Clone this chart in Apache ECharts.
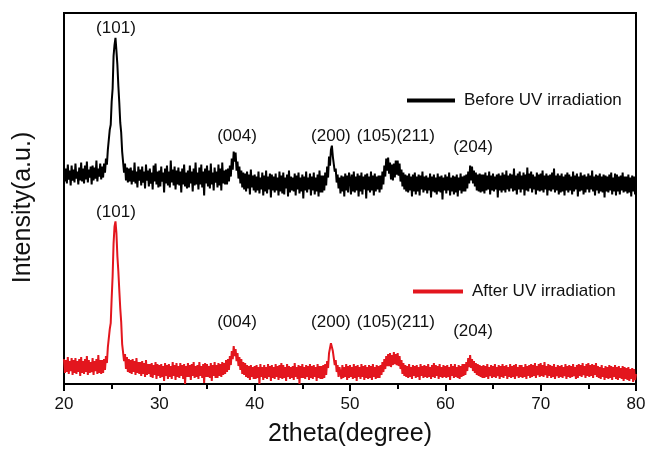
<!DOCTYPE html>
<html>
<head>
<meta charset="utf-8">
<script src="https://cdn.jsdelivr.net/npm/echarts@6/dist/echarts.min.js"></script>
<style>html,body{margin:0;padding:0;background:#fff}#c{width:649px;height:452px}</style>
</head>
<body>
<div id="c"></div>
<script>
// 2theta sampling grid: 20.0 .. 80.0 step 0.1 (601 points)
const angleStart = 20;
const angleStep = 0.1;

// Before UV irradiation (intensity, a.u.), one row per degree
const beforeUV = [
218,203,216,201,220,205,214,199,219,204,
215,202,221,206,213,200,217,204,222,203,
216,201,219,205,223,202,215,207,218,200,
219,204,217,206,224,203,216,208,221,205,
218,207,221,212,226,220,235,234,255,260,
283,296,329,340,347,334,320,299,282,262,
252,233,232,212,221,204,217,202,216,203,
217,200,214,203,222,201,213,197,218,204,
215,199,218,202,213,196,220,204,214,198,
216,201,212,195,219,203,221,200,213,197,
214,198,218,203,212,192,216,201,219,199,
213,197,224,202,215,199,218,195,214,200,
217,199,213,192,216,200,220,198,212,196,
214,197,219,201,213,193,216,199,222,200,
212,195,217,200,220,197,213,189,216,201,
219,198,214,196,221,200,212,194,217,202,
213,197,220,199,216,194,222,201,214,200,
215,200,216,203,219,208,226,215,233,223,
232,214,223,206,218,201,214,197,212,195,
211,193,213,196,210,190,215,197,209,194,
210,192,208,194,213,191,207,195,212,189,
209,193,214,191,208,195,211,187,210,194,
208,192,211,194,207,189,213,193,209,191,
212,190,207,196,210,188,214,192,208,194,
207,193,211,189,209,195,212,191,207,193,
210,186,208,194,213,192,207,195,211,189,
208,194,212,190,207,193,210,188,214,192,
209,192,209,194,212,199,218,207,228,219,
235,239,228,228,213,216,202,210,196,207,
191,209,193,208,188,211,194,209,192,212,
206,190,210,193,213,192,208,194,211,188,
209,193,212,190,208,195,210,186,211,194,
208,192,213,194,209,189,211,193,208,195,
209,192,209,195,213,200,219,208,226,214,
227,211,222,205,220,204,221,207,224,210,
224,209,221,203,215,198,212,195,210,193,
209,192,211,194,208,188,210,193,212,190,
208,193,210,189,209,195,213,192,208,194,
209,191,207,194,211,187,208,193,210,192,
207,190,211,193,208,192,209,185,207,194,
210,191,208,194,212,189,207,193,209,190,
208,192,210,188,207,194,211,191,208,193,
209,193,210,196,213,201,219,204,218,201,
214,198,212,194,210,193,211,192,210,193,
210,191,212,194,209,195,213,190,209,194,
211,193,208,195,210,187,211,194,209,192,
212,194,210,192,214,195,209,193,211,196,
210,193,216,194,209,190,211,195,213,192,
209,195,212,189,210,194,217,193,211,196,
213,192,210,195,208,190,212,194,210,193,
211,194,214,192,209,195,211,189,209,194,
210,193,212,195,216,192,209,194,211,190,
209,192,211,193,208,189,210,194,212,192,
210,194,208,190,213,193,209,195,211,188,
208,193,212,194,209,190,210,192,208,195,
211,192,209,195,214,193,208,189,210,194,
209,191,211,193,208,192,210,187,209,193,
208,192,210,194,212,190,207,193,211,189,
210,193,208,190,209,194,212,192,208,193,
208,191,210,192,207,188,209,193,208,190,
205
];

// After UV irradiation (intensity, a.u.)
const afterUV = [
25,11,24,12,27,10,23,13,26,9,
24,11,26,10,23,12,25,8,27,11,
23,10,25,12,28,9,24,11,22,12,
26,9,23,13,25,10,29,11,24,10,
24,11,25,14,28,21,37,35,55,61,
86,108,141,158,163,151,128,113,94,76,
62,40,40,23,30,15,27,12,25,11,
24,10,25,12,23,9,26,11,22,10,
22,8,23,10,21,7,24,9,20,10,
20,7,21,6,19,9,22,5,20,8,
19,6,20,7,18,3,21,8,19,5,
20,7,18,5,22,8,19,4,21,7,
18,6,21,8,19,5,20,0,18,7,
21,7,19,4,20,8,22,6,18,7,
19,5,22,8,18,6,20,1,21,7,
20,7,18,6,21,3,19,8,22,6,
19,6,21,8,20,7,22,9,21,10,
24,12,25,14,28,19,33,25,38,28,
35,23,31,18,27,14,25,10,22,9,
21,7,19,6,18,4,19,7,17,5,
18,5,19,6,17,0,20,7,17,4,
19,6,17,5,20,7,18,3,19,6,
17,5,20,7,18,4,19,6,21,5,
19,6,17,3,20,7,18,5,17,6,
18,4,21,7,17,5,19,0,18,6,
20,6,17,5,19,7,18,4,20,6,
18,5,19,7,17,3,20,6,18,5,
18,5,19,6,20,9,23,16,31,29,
41,43,33,32,19,24,12,19,7,17,
18,5,19,6,17,7,20,4,18,6,
19,7,17,5,20,6,18,3,19,7,
17,5,20,7,18,4,19,6,17,5,
19,6,18,4,20,7,17,5,19,6,
18,6,19,9,22,12,25,15,28,18,
30,18,31,17,29,19,32,20,30,19,
31,18,28,15,24,10,21,8,19,7,
18,6,20,7,17,5,19,8,18,6,
19,7,17,4,20,8,18,6,19,7,
18,6,20,7,17,5,19,7,21,6,
19,8,18,5,20,7,17,6,19,7,
18,6,19,7,17,4,20,8,18,6,
20,7,17,6,19,5,18,7,20,8,
20,9,22,13,26,17,29,16,25,13,
23,11,21,9,20,8,19,7,18,6,
19,6,18,7,20,5,17,8,19,6,
18,7,20,6,17,8,19,5,18,7,
20,6,18,8,19,5,17,7,20,6,
18,7,19,5,20,8,17,6,19,7,
19,6,17,7,20,5,18,8,19,6,
20,7,19,8,21,6,18,9,20,7,
21,8,19,7,22,9,18,6,20,8,
19,6,18,7,20,5,17,8,19,6,
18,7,19,6,17,8,20,5,18,7,
19,6,18,7,20,8,17,5,19,6,
20,8,19,7,21,9,18,6,20,8,
21,7,19,8,20,6,19,9,21,7,
18,6,17,5,19,7,16,4,18,6,
17,5,19,6,18,4,17,7,19,5,
17,4,18,6,16,5,18,3,17,5,
16,4,17,3,15,5,16,2,15,4,
10
];

// Peak annotations
const peakNames = ['(101)', '(004)', '(200)', '(105)(211)', '(204)'];
const peakX = [25.45, 38.15, 48.0, 54.8, 62.9];
const beforeLabelY = [357, 248, 248, 248, 237];
const afterLabelY = [172, 62, 62, 62, 53];

const xTicks = [20, 30, 40, 50, 60, 70, 80];

function pairs(vals) {
  return vals.map((v, i) => [+(angleStart + i * angleStep).toFixed(1), v]);
}
function marks(ys) {
  return peakNames.map((n, i) => ({ coord: [peakX[i], ys[i]], name: n }));
}
const font = 'Arial, "Liberation Sans", Helvetica, sans-serif';
const markPointCfg = ys => ({
  symbol: 'rect', symbolSize: 1, silent: true,
  itemStyle: { color: 'rgba(0,0,0,0)' },
  label: { show: true, position: 'inside', formatter: p => p.name, color: '#111', fontSize: 17, fontFamily: font },
  data: marks(ys)
});

const chart = echarts.init(document.getElementById('c'), null, { renderer: 'canvas' });
chart.setOption({
  animation: false,
  backgroundColor: '#fff',
  grid: { left: 64, right: 13, top: 13, bottom: 67, show: true, borderColor: '#000', borderWidth: 2 },
  legend: [
    { data: ['Before UV irradiation'], left: 402, top: 87, icon: 'rect', itemWidth: 48, itemHeight: 4,
      textStyle: { fontSize: 17, color: '#111', fontFamily: font, padding: [0, 0, 0, 4] } },
    { data: ['After UV irradiation'], left: 408, top: 278, icon: 'rect', itemWidth: 50, itemHeight: 4,
      textStyle: { fontSize: 17, color: '#111', fontFamily: font, padding: [0, 0, 0, 4] } }
  ],
  xAxis: {
    type: 'value', min: xTicks[0], max: xTicks[xTicks.length - 1], interval: 10,
    name: '2theta(degree)', nameLocation: 'middle', nameGap: 38,
    nameTextStyle: { fontSize: 25, color: '#111', fontFamily: font },
    axisLine: { lineStyle: { color: '#000', width: 2 } },
    axisTick: { show: true, length: 7, lineStyle: { width: 2, color: '#000' } },
    minorTick: { show: true, splitNumber: 2, length: 5, lineStyle: { width: 2, color: '#000' } },
    axisLabel: { fontSize: 17, color: '#111', margin: 12, fontFamily: font },
    splitLine: { show: false }
  },
  yAxis: {
    type: 'value', min: 0, max: 372,
    name: 'Intensity(a.u.)', nameLocation: 'middle', nameGap: 28,
    nameTextStyle: { fontSize: 25, color: '#111', fontFamily: font, padding: [0, 18, 0, 0] },
    axisLine: { show: true, lineStyle: { color: '#000', width: 2 } },
    axisTick: { show: false }, axisLabel: { show: false }, splitLine: { show: false }
  },
  series: [
    { name: 'Before UV irradiation', type: 'line', data: pairs(beforeUV), showSymbol: false,
      lineStyle: { color: '#000', width: 2 }, itemStyle: { color: '#000' },
      markPoint: markPointCfg(beforeLabelY) },
    { name: 'After UV irradiation', type: 'line', data: pairs(afterUV), showSymbol: false,
      lineStyle: { color: '#e3161e', width: 2 }, itemStyle: { color: '#e3161e' },
      markPoint: markPointCfg(afterLabelY) }
  ]
});
</script>
</body>
</html>
